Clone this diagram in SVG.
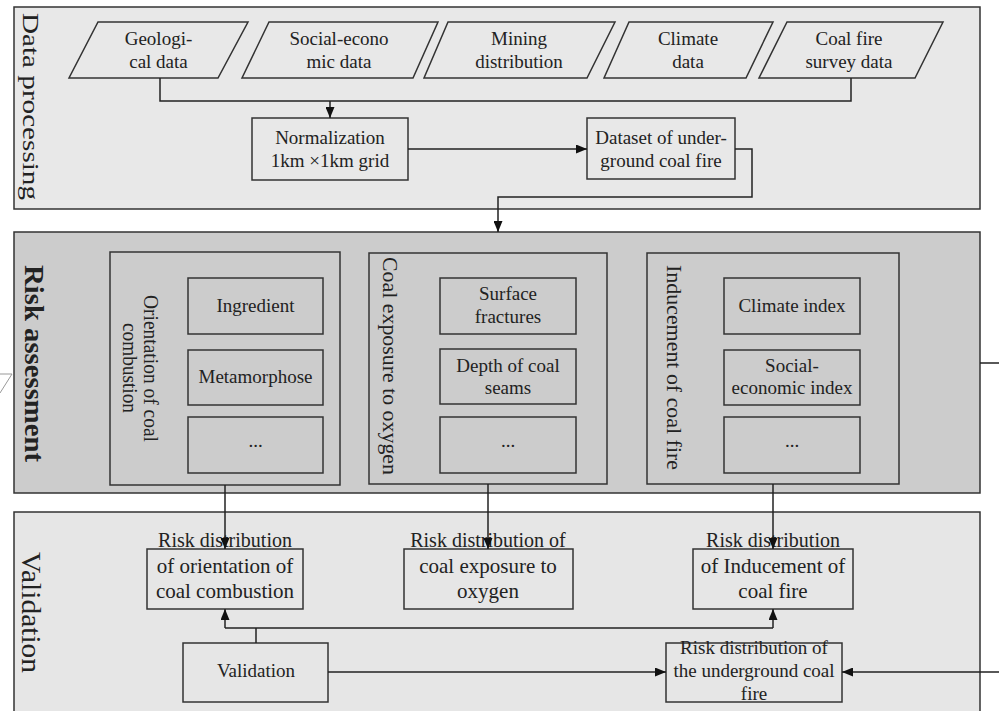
<svg xmlns="http://www.w3.org/2000/svg" width="999" height="711" viewBox="0 0 999 711">
<defs>
<style>
.t{font-family:"Liberation Serif","Times New Roman",serif;font-size:19px;fill:#222;text-anchor:middle}
.t21{font-size:21px}
.t20{font-size:20px}
.t22{font-size:22px}
.t23{font-size:23px}
.t28{font-size:28px}
.b{font-weight:bold}
.box{fill:none;stroke:#333;stroke-width:1.5}
.ln{fill:none;stroke:#222;stroke-width:1.5}
</style>
<marker id="ah" markerUnits="userSpaceOnUse" markerWidth="11" markerHeight="9" refX="11" refY="4.5" orient="auto">
<path d="M0,0 L11,4.5 L0,9 z" fill="#111"/>
</marker>
</defs>
<rect width="999" height="711" fill="#fff"/>

<!-- panels -->
<g id="panel-data">
<rect x="14" y="7" width="966" height="202" fill="#e8e8e8" stroke="#333" stroke-width="1.5"/>
<text class="t t23" textLength="187" lengthAdjust="spacingAndGlyphs" transform="translate(23,106.5) rotate(90)">Data processing</text>
</g>
<g id="panel-risk">
<rect x="14" y="232" width="966" height="261" fill="#cccccc" stroke="#333" stroke-width="1.5"/>
<text class="t t28 b" textLength="197" lengthAdjust="spacingAndGlyphs" transform="translate(25,363.5) rotate(90)">Risk assessment</text>
</g>
<g id="panel-validation">
<rect x="14" y="512" width="966" height="210" fill="#e6e6e6" stroke="#333" stroke-width="1.5"/>
<text class="t t28" textLength="121" lengthAdjust="spacingAndGlyphs" transform="translate(22,612.5) rotate(90)">Validation</text>
</g>

<!-- artifacts at left edge -->
<path d="M0,374 H12 L0,393" fill="none" stroke="#999" stroke-width="1"/>

<!-- data inputs -->
<g id="geological">
<polygon class="box" points="98,22 248,22 218,78 69,78"/>
<text class="t" x="158.5" y="45">Geologi-</text>
<text class="t" x="158.5" y="68">cal data</text>
</g>
<g id="social">
<polygon class="box" points="269,22 438,22 413,78 242,78"/>
<text class="t" x="339" y="45">Social-econo</text>
<text class="t" x="339" y="68">mic data</text>
</g>
<g id="mining">
<polygon class="box" points="448,22 615,22 587,78 424,78"/>
<text class="t" x="519" y="45">Mining</text>
<text class="t" x="519" y="68">distribution</text>
</g>
<g id="climate">
<polygon class="box" points="629,22 773,22 746,78 604,78"/>
<text class="t" x="688" y="45">Climate</text>
<text class="t" x="688" y="68">data</text>
</g>
<g id="coalfire">
<polygon class="box" points="787,22 943,22 915,78 759,78"/>
<text class="t" x="849" y="45">Coal fire</text>
<text class="t" x="849" y="68">survey data</text>
</g>
<g id="normalization">
<rect class="box" x="252" y="118" width="156" height="62"/>
<text class="t" x="330" y="144">Normalization</text>
<text class="t" x="330" y="167">1km ×1km grid</text>
</g>
<g id="dataset">
<rect class="box" x="587" y="118" width="148" height="61"/>
<text class="t" x="661" y="144">Dataset of under-</text>
<text class="t" x="661" y="167">ground coal fire</text>
</g>

<!-- risk groups -->
<g id="orientation">
<rect class="box" x="110" y="252" width="230" height="233"/>
<text class="t t20" textLength="147" lengthAdjust="spacingAndGlyphs" transform="translate(144,368.5) rotate(90)">Orientation of coal</text>
<text class="t t20" textLength="90" lengthAdjust="spacingAndGlyphs" transform="translate(123,368) rotate(90)">combustion</text>
</g>
<g id="ingredient">
<rect class="box" x="188" y="278" width="135" height="56"/>
<text class="t" x="255.5" y="312">Ingredient</text>
</g>
<g id="metamorphose">
<rect class="box" x="188" y="350" width="135" height="55"/>
<text class="t" x="255.5" y="383">Metamorphose</text>
</g>
<g id="orientation-more">
<rect class="box" x="188" y="417" width="135" height="56"/>
<text class="t" x="255.5" y="447">...</text>
</g>

<g id="exposure">
<rect class="box" x="369" y="253" width="238" height="231"/>
<text class="t t22" textLength="218" lengthAdjust="spacingAndGlyphs" transform="translate(383,366) rotate(90)">Coal exposure to oxygen</text>
</g>
<g id="surface">
<rect class="box" x="440" y="278" width="136" height="56"/>
<text class="t" x="508" y="300">Surface</text>
<text class="t" x="508" y="323">fractures</text>
</g>
<g id="depth">
<rect class="box" x="440" y="349" width="136" height="55"/>
<text class="t" x="508" y="372">Depth of coal</text>
<text class="t" x="508" y="394">seams</text>
</g>
<g id="exposure-more">
<rect class="box" x="440" y="417" width="136" height="56"/>
<text class="t" x="508" y="447">...</text>
</g>

<g id="inducement">
<rect class="box" x="647" y="253" width="252" height="231"/>
<text class="t t22" textLength="205" lengthAdjust="spacingAndGlyphs" transform="translate(667,367.5) rotate(90)">Inducement of coal fire</text>
</g>
<g id="climate-index">
<rect class="box" x="724" y="278" width="136" height="56"/>
<text class="t" x="792" y="312">Climate index</text>
</g>
<g id="social-index">
<rect class="box" x="724" y="350" width="136" height="55"/>
<text class="t" x="792" y="372">Social-</text>
<text class="t" x="792" y="394">economic index</text>
</g>
<g id="inducement-more">
<rect class="box" x="724" y="417" width="136" height="56"/>
<text class="t" x="792" y="447">...</text>
</g>

<!-- validation nodes -->
<g id="risk-orientation">
<rect class="box" x="147" y="549" width="156" height="60"/>
<text class="t t20" x="225" y="547">Risk distribution</text>
<text class="t t21" x="225" y="573">of orientation of</text>
<text class="t t21" x="225" y="598">coal combustion</text>
</g>
<g id="risk-exposure">
<rect class="box" x="404" y="549" width="169" height="60"/>
<text class="t t20" x="488" y="547">Risk distribution of</text>
<text class="t t21" x="488" y="573">coal exposure to</text>
<text class="t t21" x="488" y="598">oxygen</text>
</g>
<g id="risk-inducement">
<rect class="box" x="693" y="549" width="160" height="60"/>
<text class="t t20" x="773" y="547">Risk distribution</text>
<text class="t t21" x="773" y="573">of Inducement of</text>
<text class="t t21" x="773" y="598">coal fire</text>
</g>
<g id="validation">
<rect class="box" x="183" y="643" width="145" height="59"/>
<text class="t" x="256" y="677">Validation</text>
</g>
<g id="risk-underground">
<rect class="box" x="666" y="643" width="176" height="59"/>
<text class="t" x="754" y="654">Risk distribution of</text>
<text class="t" x="754" y="677">the underground coal</text>
<text class="t" x="754" y="700">fire</text>
</g>

<!-- connectors -->
<g id="connectors">
<path class="ln" d="M160,78 V101 H851 V78"/>
<path class="ln" d="M330,101 V118" marker-end="url(#ah)"/>
<path class="ln" d="M408,149 H587" marker-end="url(#ah)"/>
<path class="ln" d="M735,149 H752 V197 H498 V232" marker-end="url(#ah)"/>
<path class="ln" d="M225,485 V549" marker-end="url(#ah)"/>
<path class="ln" d="M488,484 V549" marker-end="url(#ah)"/>
<path class="ln" d="M773,484 V549" marker-end="url(#ah)"/>
<path class="ln" d="M256,643 V628"/>
<path class="ln" d="M225,628 H773"/>
<path class="ln" d="M225,628 V609" marker-end="url(#ah)"/>
<path class="ln" d="M773,628 V609" marker-end="url(#ah)"/>
<path class="ln" d="M328,672 H666" marker-end="url(#ah)"/>
<path class="ln" d="M980,363 H1010 V672 H842" marker-end="url(#ah)"/>
</g>
</svg>
